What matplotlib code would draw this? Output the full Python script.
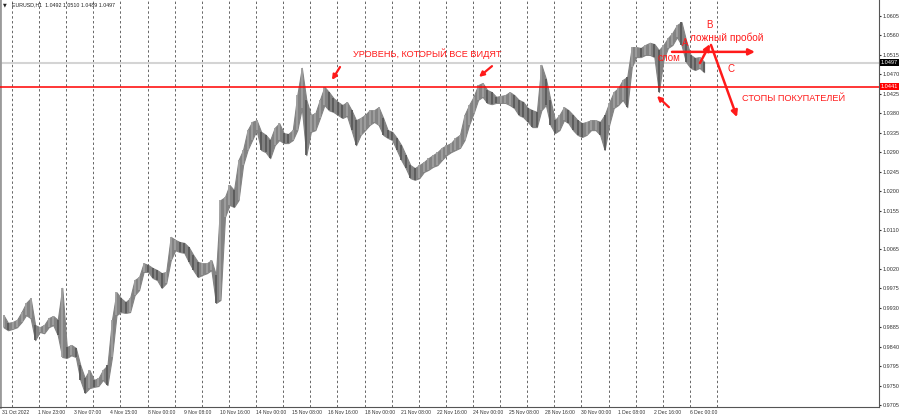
import numpy as np
import matplotlib.pyplot as plt
from matplotlib import transforms

# EURUSD H1 in 4-hour blocks
hi = [0.9913, 0.9895, 0.9897, 0.9902, 0.9920, 0.9941, 0.9952, 0.9890, 0.9885, 0.9890,
      0.9906, 0.9911, 0.9902, 0.9976, 0.9839, 0.9844, 0.9837, 0.9797, 0.9767, 0.9786,
      0.9763, 0.9767, 0.9786, 0.9797, 0.9902, 0.9966, 0.9952, 0.9943, 0.9952, 0.9994,
      1.0001, 1.0033, 1.0029, 1.0022, 1.0017, 1.0010, 1.0013, 1.0094, 1.0087, 1.0082,
      1.0080, 1.0070, 1.0052, 1.0036, 1.0033, 1.0033, 1.0040, 1.0006, 1.0179, 1.0186,
      1.0214, 1.0202, 1.0272, 1.0295, 1.0341, 1.0360, 1.0364, 1.0337, 1.0330, 1.0318,
      1.0346, 1.0357, 1.0334, 1.0332, 1.0341, 1.0422, 1.0485, 1.0411, 1.0376, 1.0380,
      1.0411, 1.0441, 1.0429, 1.0415, 1.0406, 1.0399, 1.0406, 1.0387, 1.0364, 1.0369,
      1.0376, 1.0387, 1.0387, 1.0394, 1.0369, 1.0341, 1.0337, 1.0323, 1.0306, 1.0283,
      1.0260, 1.0253, 1.0260, 1.0267, 1.0276, 1.0283, 1.0290, 1.0300, 1.0306, 1.0311,
      1.0323, 1.0330, 1.0376, 1.0399, 1.0418, 1.0445, 1.0450, 1.0434, 1.0429, 1.0418,
      1.0420, 1.0422, 1.0429, 1.0422, 1.0411, 1.0406, 1.0392, 1.0387, 1.0383, 1.0492,
      1.0460, 1.0411, 1.0364, 1.0376, 1.0394, 1.0387, 1.0376, 1.0364, 1.0357, 1.0360,
      1.0364, 1.0364, 1.0360, 1.0376, 1.0404, 1.0429, 1.0438, 1.0457, 1.0464, 1.0533,
      1.0533, 1.0531, 1.0538, 1.0543, 1.0540, 1.0526, 1.0538, 1.0554, 1.0566, 1.0584,
      1.0591, 1.0549, 1.0515, 1.0508, 1.0510, 1.0499]
lo = [0.9885, 0.9878, 0.9881, 0.9885, 0.9897, 0.9913, 0.9906, 0.9855, 0.9874, 0.9871,
      0.9885, 0.9890, 0.9867, 0.9816, 0.9814, 0.9820, 0.9816, 0.9763, 0.9733, 0.9744,
      0.9747, 0.9749, 0.9763, 0.9751, 0.9816, 0.9913, 0.9920, 0.9918, 0.9920, 0.9959,
      0.9971, 1.0013, 1.0013, 0.9999, 0.9994, 0.9976, 0.9987, 1.0040, 1.0063, 1.0059,
      1.0057, 1.0036, 1.0017, 1.0001, 1.0006, 1.0010, 1.0017, 0.9941, 0.9948, 1.0140,
      1.0168, 1.0163, 1.0179, 1.0260, 1.0295, 1.0318, 1.0341, 1.0295, 1.0290, 1.0276,
      1.0306, 1.0318, 1.0311, 1.0311, 1.0318, 1.0341, 1.0392, 1.0283, 1.0337, 1.0341,
      1.0369, 1.0399, 1.0387, 1.0383, 1.0376, 1.0369, 1.0374, 1.0341, 1.0306, 1.0330,
      1.0341, 1.0353, 1.0360, 1.0353, 1.0330, 1.0323, 1.0318, 1.0295, 1.0272, 1.0253,
      1.0230, 1.0226, 1.0230, 1.0244, 1.0249, 1.0256, 1.0260, 1.0272, 1.0283, 1.0290,
      1.0295, 1.0300, 1.0318, 1.0353, 1.0380, 1.0411, 1.0418, 1.0404, 1.0401, 1.0404,
      1.0404, 1.0404, 1.0399, 1.0392, 1.0376, 1.0371, 1.0360, 1.0348, 1.0348, 1.0387,
      1.0399, 1.0353, 1.0334, 1.0341, 1.0364, 1.0357, 1.0341, 1.0330, 1.0325, 1.0330,
      1.0341, 1.0341, 1.0330, 1.0295, 1.0353, 1.0392, 1.0399, 1.0411, 1.0394, 1.0487,
      1.0510, 1.0510, 1.0515, 1.0515, 1.0510, 1.0429, 1.0503, 1.0531, 1.0538, 1.0556,
      1.0538, 1.0499, 1.0485, 1.0480, 1.0485, 1.0475]
first_bar = -9          # 31 Oct 15:00, bars counted from 1 Nov 00:00
bars_per_block = 4
n_separators = 27       # daily separators 1 Nov .. 7 Dec

level = 1.0441
bid = 1.0497
price_ticks = [1.0605, 1.0560, 1.0515, 1.0470, 1.0425, 1.0380, 1.0335, 1.0290, 1.0245,
               1.0200, 1.0155, 1.0110, 1.0065, 1.0020, 0.9975, 0.9930, 0.9885, 0.9840,
               0.9795, 0.9750, 0.9705]
date_pos = [-9, 23, 55, 87, 120, 152, 184, 216, 248, 280, 312, 344, 376, 408, 440,
            472, 504, 536, 568, 600]
date_labels = ['31 Oct 2022', '1 Nov 23:00', '3 Nov 07:00', '4 Nov 15:00', '8 Nov 00:00',
               '9 Nov 08:00', '10 Nov 16:00', '14 Nov 00:00', '15 Nov 08:00',
               '16 Nov 16:00', '18 Nov 00:00', '21 Nov 08:00', '22 Nov 16:00',
               '24 Nov 00:00', '25 Nov 08:00', '28 Nov 16:00', '30 Nov 00:00',
               '1 Dec 08:00', '2 Dec 16:00', '6 Dec 00:00']

RED = '#ff1a1a'
plt.rcParams['font.family'] = ['Liberation Sans', 'DejaVu Sans']

fig = plt.figure(figsize=(9, 4.19), dpi=100)
ax = fig.add_axes([0, 12 / 419, 879 / 900, 407 / 419])
ax.set_xlim(-10.6, 767.3)
ax.set_ylim(0.97004, 1.0642)

# daily period separators
for d in range(n_separators):
    ax.axvline(24 * d, color='#666666', lw=0.7, ls=(0, (2.5, 2.5)), zorder=1)

ax.axhline(bid, color='#d4d4d4', lw=1.5, zorder=1)
ax.axhline(level, color='#ff0000', lw=1.1, zorder=3)

# price band + bars
hi = np.array(hi)
lo = np.array(lo)
x = first_bar + bars_per_block * np.arange(len(hi)) + bars_per_block / 2 - 0.5
ax.fill_between(x, lo, hi, color='#838383', lw=0.8, edgecolor='#838383', zorder=2)
mid = (hi + lo) / 2
up = np.r_[True, mid[1:] >= mid[:-1]]
cols = np.where(up, '#a0a0a0', '#5a5a5a')
ax.vlines(x, lo, hi, colors=cols, lw=1.3, capstyle='butt', zorder=2)

# axes look
ax.spines['top'].set_visible(False)
ax.spines['left'].set_color('#9a9a9a')
ax.spines['left'].set_linewidth(2)
ax.spines['right'].set_color('#555555')
ax.spines['bottom'].set_color('#555555')
ax.yaxis.tick_right()
ax.set_yticks(price_ticks, [f'{p:.4f}' for p in price_ticks])
ax.tick_params(axis='y', labelsize=4.0, length=1.5, pad=1, colors='#333333')
ax.set_xticks(date_pos, date_labels, ha='left')
ax.tick_params(axis='x', labelsize=3.6, length=0, pad=2, colors='#333333')

tr = transforms.blended_transform_factory(ax.transAxes, ax.transData)
ax.text(1.002, bid, f'{bid:.4f}', transform=tr, ha='left', va='center', fontsize=4.0,
        color='white', bbox=dict(facecolor='black', edgecolor='none', pad=0.8))
ax.text(1.002, level, f'{level:.4f}', transform=tr, ha='left', va='center', fontsize=4.0,
        color='white', bbox=dict(facecolor='#ff0000', edgecolor='none', pad=0.8))

fig.text(3 / 900, 1 - 5 / 419, '\u25bc', fontsize=3.5, family='DejaVu Sans',
         va='center', ha='left', color='#222222')
fig.text(12 / 900, 1 - 5 / 419, 'EURUSD,H1  1.0492 1.0510 1.0489 1.0497', fontsize=3.8,
         va='center', ha='left', color='#222222')

# annotations
ax.text(301.8, 1.0518, 'УРОВЕНЬ, КОТОРЫЙ ВСЕ ВИДЯТ', color=RED, fontsize=6.6,
        ha='left', va='center')
small = dict(arrowstyle='-|>', color=RED, lw=1.6, mutation_scale=7, shrinkA=0, shrinkB=0)
ax.annotate('', xy=(283.2, 1.0457), xytext=(290.3, 1.0487), arrowprops=small)
ax.annotate('', xy=(413.3, 1.0464), xytext=(424.8, 1.0489), arrowprops=small)
ax.annotate('', xy=(570.8, 1.0420), xytext=(581.4, 1.0394), arrowprops=small)

ax.text(571.7, 1.0508, 'слом', color=RED, fontsize=7, ha='left', va='center')
ax.text(595.6, 1.0543, 'A', color=RED, fontsize=7, ha='center', va='center')
ax.text(616.8, 1.0584, 'B', color=RED, fontsize=7, ha='center', va='center')
ax.text(600.0, 1.0554, 'ложный пробой', color=RED, fontsize=7.3, ha='left', va='center')
ax.text(636.3, 1.0482, 'C', color=RED, fontsize=7, ha='center', va='center')
ax.text(646.0, 1.0413, 'СТОПЫ ПОКУПАТЕЛЕЙ', color=RED, fontsize=6.6, ha='left', va='center')

big = dict(arrowstyle='-|>', color=RED, lw=1.8, mutation_scale=9, shrinkA=0, shrinkB=0)
ax.annotate('', xy=(657.5, 1.0522), xytext=(584.1, 1.0522), arrowprops=big)
ax.annotate('', xy=(617.7, 1.0540), xytext=(608.8, 1.0496), arrowprops=big)
ax.annotate('', xy=(641.6, 1.0371), xytext=(618.6, 1.0538), arrowprops=big)

fig.savefig('out.png', dpi=100)
